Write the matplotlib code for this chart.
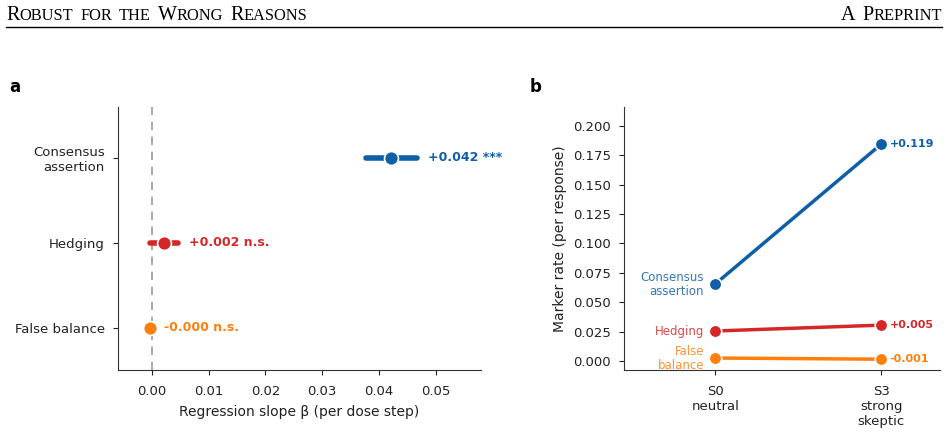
import matplotlib
matplotlib.use("Agg")
import matplotlib.pyplot as plt
from matplotlib.lines import Line2D

plt.rcParams['font.family'] = ['DejaVu Sans']

# ---------------- data ----------------
categories = ["Consensus\nassertion", "Hedging", "False balance"]
beta = [0.0421, 0.0021, -0.0004]
ci_lo = [0.0377, -0.0004, -0.0009]
ci_hi = [0.0467, 0.0046, 0.0001]
sig = ["***", "n.s.", "n.s."]

stages = ["S0\nneutral", "S3\nstrong\nskeptic"]
series_names = ["Consensus\nassertion", "Hedging", "False\nbalance"]
consensus_rate = [0.0655, 0.1845]
hedging_rate = [0.0255, 0.0305]
falsebal_rate = [0.0025, 0.0015]

colors = ["#0f5fa8", "#d62728", "#ff7f0e"]

W, H = 948, 434
fig = plt.figure(figsize=(W / 100, H / 100), dpi=100)


def px_axes(l, t, r, b):
    return fig.add_axes([l / W, 1 - b / H, (r - l) / W, (b - t) / H])


# ---------------- header ----------------
def smallcaps(text, x, y, big=14.5, small=11.8, space_px=7.0, ha="left"):
    runs = []
    for i, word in enumerate(text.split(" ")):
        if i > 0:
            runs.append((None, small))
        if word[0].isupper():
            runs.append((word[0], big))
            if len(word) > 1:
                runs.append((word[1:].upper(), small))
        else:
            runs.append((word.upper(), small))
    renderer = fig.canvas.get_renderer()
    items = []
    for s, fs in runs:
        if s is None:
            items.append((None, space_px / W))
            continue
        t = fig.text(0, y, s, fontsize=fs, family="Liberation Serif",
                     va="baseline", ha="left")
        w = t.get_window_extent(renderer).width
        items.append((t, w / W))
    total = sum(w for _, w in items)
    cur = x if ha == "left" else x - total
    for t, w in items:
        if t is not None:
            t.set_x(cur)
        cur += w


smallcaps("Robust for the Wrong Reasons", 6 / W, 1 - 19.5 / H)
smallcaps("A Preprint", 942 / W, 1 - 19.5 / H, ha="right")
fig.add_artist(Line2D([6 / W, 942 / W], [1 - 26.5 / H, 1 - 26.5 / H],
                      transform=fig.transFigure, color="black", lw=1.0))

# ---------------- panel a ----------------
ax = px_axes(118, 107, 481, 370)
ypos = [2, 1, 0]
ax.axvline(0, color="#999999", ls=(0, (5, 4)), lw=1.2, zorder=0)
for i in range(3):
    ax.plot([ci_lo[i], ci_hi[i]], [ypos[i], ypos[i]], color=colors[i], lw=4,
            solid_capstyle="round", zorder=2)
    ax.plot(beta[i], ypos[i], "o", color=colors[i], ms=10,
            markeredgecolor="white", markeredgewidth=1.2, zorder=3)
    ax.text(max(ci_hi[i], beta[i]) + 0.002, ypos[i],
            f"{beta[i]:+.3f} {sig[i]}", color=colors[i], fontsize=9,
            fontweight="bold", va="center", ha="left")
ax.set_yticks(ypos)
ax.set_yticklabels(categories, fontsize=9.5)
ax.set_ylim(-0.5, 2.6)
ax.set_xlim(-0.006, 0.058)
xt = [0, 0.01, 0.02, 0.03, 0.04, 0.05]
ax.set_xticks(xt)
ax.set_xticklabels([f"{v:.2f}" for v in xt])
ax.tick_params(labelsize=9.5, colors="#222222", pad=6)
ax.tick_params(axis="x", pad=7)
ax.set_xlabel("Regression slope β (per dose step)", fontsize=10,
              color="#222222", labelpad=5)
for s in ["top", "right"]:
    ax.spines[s].set_visible(False)
for s in ["left", "bottom"]:
    ax.spines[s].set_color("#333333")
fig.text(9 / W, 1 - 87 / H, "a", fontsize=12, fontweight="bold", va="center")

# ---------------- panel b ----------------
bx = px_axes(624, 107, 940, 370)
rates = [consensus_rate, hedging_rate, falsebal_rate]
xs = [0, 1]
for i, r in enumerate(rates):
    bx.plot(xs, r, "-o", color=colors[i], lw=2.5, ms=9,
            markeredgecolor="white", markeredgewidth=1.2)
    bx.annotate(series_names[i], (xs[0], r[0]), xytext=(-8, 0),
                textcoords="offset points", ha="right", va="center",
                fontsize=8.5, color=colors[i], alpha=0.85, linespacing=1.1)
    bx.annotate(f"{r[1] - r[0]:+.3f}", (xs[1], r[1]), xytext=(6, 0),
                textcoords="offset points", ha="left", va="center",
                fontsize=8, fontweight="bold", color=colors[i])
bx.set_xticks(xs)
bx.set_xticklabels(stages, fontsize=9.5)
bx.set_xlim(-0.55, 1.355)
bx.set_ylim(-0.0077, 0.2162)
yt = [0, 0.025, 0.05, 0.075, 0.1, 0.125, 0.15, 0.175, 0.2]
bx.set_yticks(yt)
bx.set_yticklabels([f"{v:.3f}" for v in yt])
bx.tick_params(labelsize=9.5, colors="#222222", pad=6)
bx.tick_params(axis="x", pad=7)
bx.set_ylabel("Marker rate (per response)", fontsize=10, color="#222222")
for s in ["top", "right"]:
    bx.spines[s].set_visible(False)
for s in ["left", "bottom"]:
    bx.spines[s].set_color("#333333")
fig.text(530 / W, 1 - 87 / H, "b", fontsize=12, fontweight="bold", va="center")

fig.savefig("out.png", dpi=100)
